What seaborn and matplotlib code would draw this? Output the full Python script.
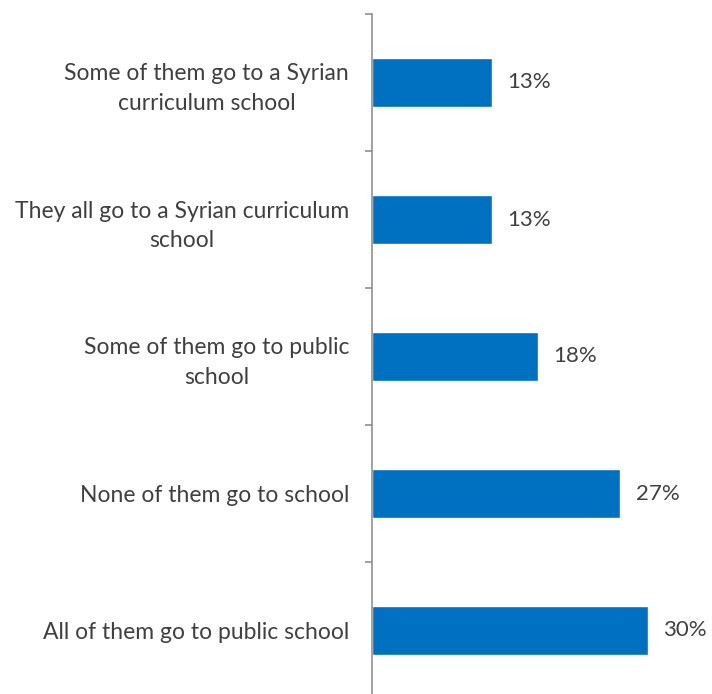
import matplotlib
matplotlib.use("Agg")
import matplotlib.pyplot as plt
import seaborn as sns
import pandas as pd

# Responses, listed top to bottom
categories = [
    "Some of them go to a Syrian\ncurriculum school",
    "They all go to a Syrian curriculum\nschool",
    "Some of them go to public\nschool",
    "None of them go to school",
    "All of them go to public school",
]
values = [13, 13, 18, 27, 30]
value_labels = ["13%", "13%", "18%", "27%", "30%"]

sns.set_theme(style="white")
plt.rcParams["font.family"] = ["Lato", "DejaVu Sans"]

df = pd.DataFrame({"category": categories, "value": values})

W, H, DPI = 712, 694, 100
fig = plt.figure(figsize=(W / DPI, H / DPI), dpi=DPI)
left, top, bottom_px = 372, 14, 699
ax = fig.add_axes([left / W, 1 - bottom_px / H, (W - left) / W, (bottom_px - top) / H])

sns.barplot(data=df, y="category", x="value", orient="h", color="#0070C0",
            width=0.36, saturation=1, ax=ax, order=categories)

px_per_pct = 9.2
ax.set_xlim(0, (W - left) / px_per_pct)
ax.set_ylim(len(categories) - 0.5, -0.5)

for i, (v, lab) in enumerate(zip(values, value_labels)):
    ax.annotate(lab, xy=(v, i), xytext=(11, 0), textcoords="offset points",
                va="center", ha="left", fontsize=16, color="#404040")

ax.set_xlabel("")
ax.set_ylabel("")
ax.set_xticks([])

# category labels at bar centres, tick marks at category boundaries
ax.set_yticks(range(len(categories)))
ax.set_yticklabels(categories)
ax.set_yticks([i - 0.5 for i in range(len(categories) + 1)], minor=True)
ax.tick_params(axis="y", which="major", length=0, pad=16.5, labelsize=16.5,
               labelcolor="#404040")
ax.tick_params(axis="y", which="minor", length=5, width=1.1, color="#878787",
               direction="out", left=True)
for t in ax.get_yticklabels():
    t.set_multialignment("center")
    t.set_linespacing(1.5)

for side in ["top", "right", "bottom"]:
    ax.spines[side].set_visible(False)
ax.spines["left"].set_color("#878787")
ax.spines["left"].set_linewidth(1.1)

fig.savefig("out.png", dpi=DPI)
